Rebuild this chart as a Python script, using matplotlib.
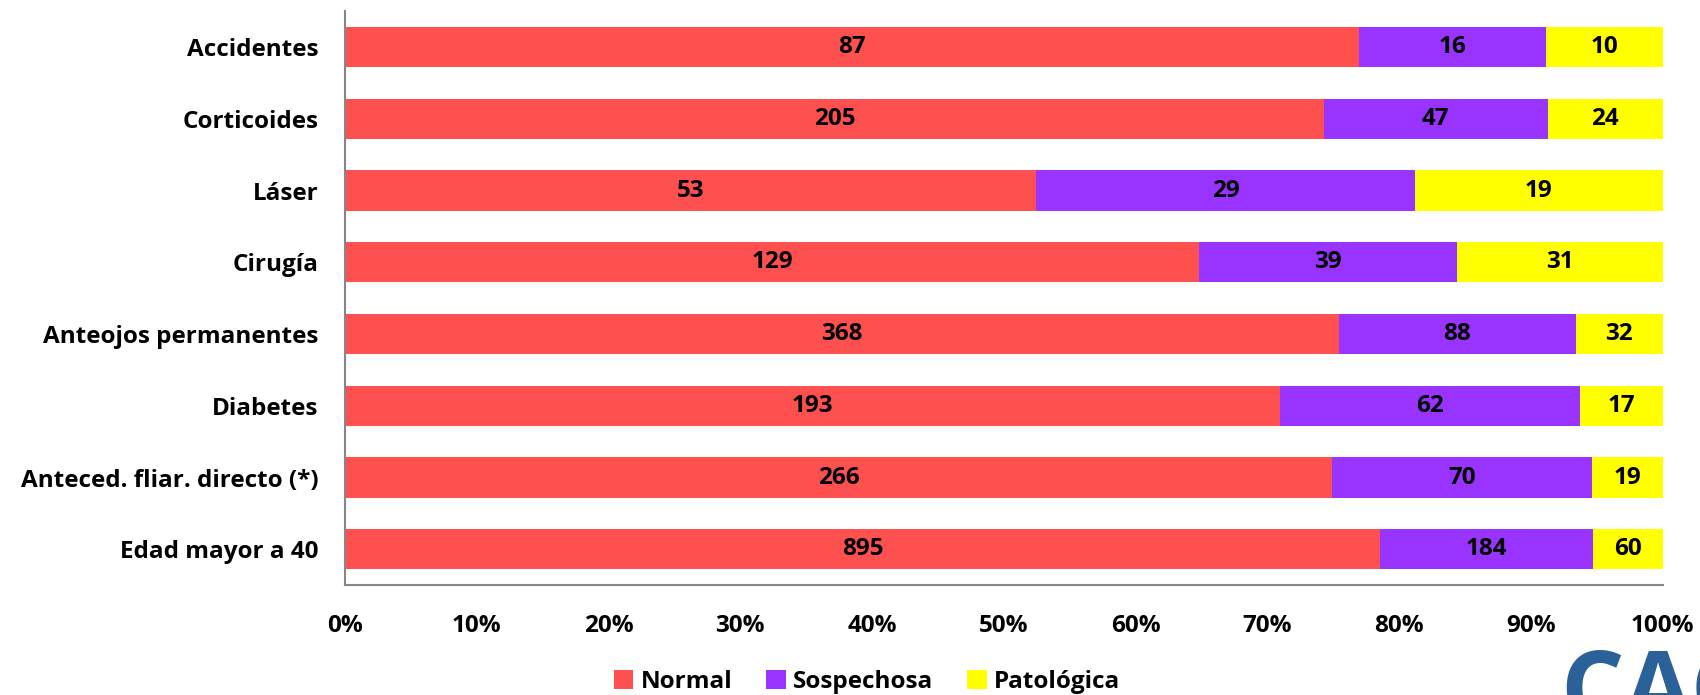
import matplotlib.pyplot as plt
import numpy as np
from matplotlib.ticker import PercentFormatter

categories = ["Accidentes", "Corticoides", "Láser", "Cirugía", "Anteojos permanentes",
              "Diabetes", "Anteced. fliar. directo (*)", "Edad mayor a 40"]
normal = [87, 205, 53, 129, 368, 193, 266, 895]
sospechosa = [16, 47, 29, 39, 88, 62, 70, 184]
patologica = [10, 24, 19, 31, 32, 17, 19, 60]

series = [("Normal", normal, "#FF5050"),
          ("Sospechosa", sospechosa, "#9933FF"),
          ("Patológica", patologica, "#FFFF00")]

plt.rcParams['font.family'] = ['Open Sans', 'DejaVu Sans']
plt.rcParams['font.weight'] = 'bold'
FS = 17.5

fig = plt.figure(figsize=(17, 6.95), dpi=100)
ax = fig.add_axes([0.203, 0.158, 0.775, 0.826])

totals = np.array(normal) + np.array(sospechosa) + np.array(patologica)
y = np.arange(len(categories))
left = np.zeros(len(categories))
for name, vals, color in series:
    frac = np.array(vals) / totals
    bars = ax.barh(y, frac, left=left, height=0.56, color=color, label=name)
    ax.bar_label(bars, labels=[str(v) for v in vals], label_type='center',
                 fontsize=FS, fontweight='bold', color='black')
    left += frac

ax.set_xlim(0, 1)
ax.set_ylim(len(categories) - 0.5, -0.5)
ax.set_yticks(y)
ax.set_yticklabels(categories, fontsize=FS, fontweight='bold')
ax.set_xticks(np.arange(0, 1.01, 0.1))
ax.xaxis.set_major_formatter(PercentFormatter(1.0, decimals=0))
ax.tick_params(axis='x', length=0, labelsize=FS, pad=21)
ax.tick_params(axis='y', length=0, pad=19)
for lbl in ax.get_xticklabels():
    lbl.set_fontweight('bold')

for s in ['top', 'right']:
    ax.spines[s].set_visible(False)
ax.spines['left'].set_color('#868686')
ax.spines['bottom'].set_color('#868686')
ax.spines['left'].set_linewidth(1.5)
ax.spines['bottom'].set_linewidth(1.5)

fig.legend(loc='lower center', bbox_to_anchor=(0.51, -0.03), ncol=3, frameon=False,
           fontsize=FS, handlelength=0.8, handleheight=0.8, columnspacing=1.4,
           handletextpad=0.3)

# logo fragment at bottom right
fig.text(0.918, -0.04, "CAC", fontsize=72, fontweight='bold', color='#2B6199')

fig.savefig("out.png", dpi=100)
